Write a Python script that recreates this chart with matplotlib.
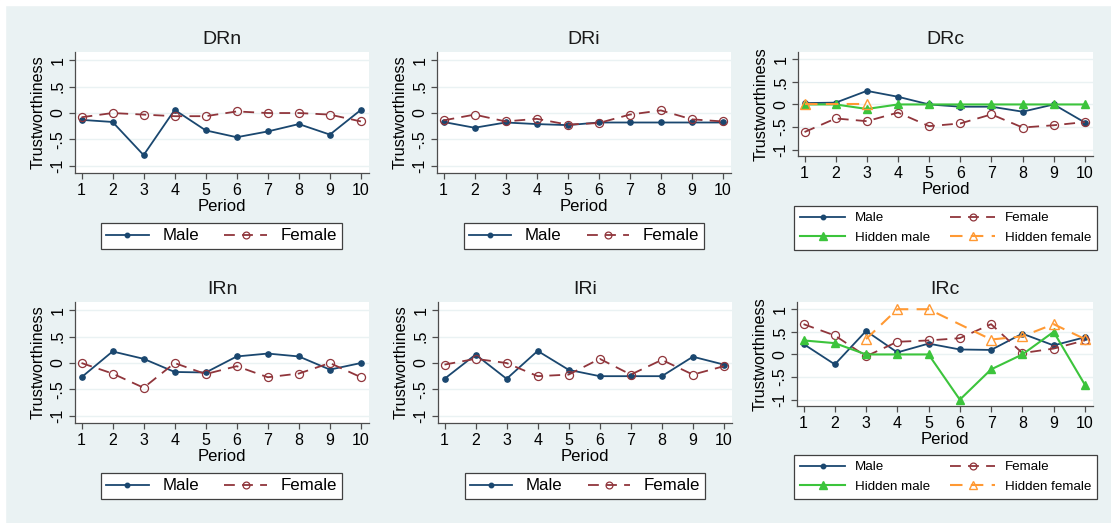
import numpy as np
import matplotlib.pyplot as plt

plt.rcParams['font.family'] = ['Liberation Sans', 'DejaVu Sans']

# Mean trustworthiness per period, by treatment
period = np.arange(1, 11)

drn_male = [-0.13, -0.17, -0.80, 0.06, -0.33, -0.46, -0.35, -0.21, -0.41, 0.06]
drn_female = [-0.08, 0.0, -0.03, -0.06, -0.06, 0.03, 0.0, 0.0, -0.03, -0.16]

dri_male = [-0.17, -0.28, -0.18, -0.21, -0.23, -0.18, -0.18, -0.18, -0.18, -0.18]
dri_female = [-0.14, -0.03, -0.16, -0.11, -0.22, -0.19, -0.03, 0.05, -0.12, -0.16]

drc_male = [0.03, 0.04, 0.30, 0.17, 0.0, -0.05, -0.05, -0.16, 0.0, -0.40]
drc_female = [-0.61, -0.31, -0.37, -0.18, -0.48, -0.42, -0.22, -0.51, -0.46, -0.39]
drc_hmale = [0.0, 0.0, -0.10, 0.0, 0.0, 0.0, 0.0, 0.0, 0.0, 0.0]
drc_hfemale = [0.0, np.nan, 0.0, np.nan, np.nan, np.nan, np.nan, np.nan, np.nan, np.nan]

irn_male = [-0.27, 0.22, 0.08, -0.17, -0.18, 0.125, 0.18, 0.125, -0.125, 0.0]
irn_female = [0.0, -0.20, -0.47, 0.0, -0.21, -0.06, -0.27, -0.20, 0.0, -0.27]

iri_male = [-0.30, 0.16, -0.30, 0.23, -0.13, -0.25, -0.25, -0.25, 0.12, -0.03]
iri_female = [-0.03, 0.08, 0.0, -0.25, -0.22, 0.08, -0.22, 0.06, -0.22, -0.06]

irc_male = [0.23, -0.22, 0.52, 0.045, 0.24, 0.11, 0.10, 0.46, 0.20, 0.38]
irc_female = [0.67, 0.42, -0.04, 0.28, 0.31, 0.36, 0.67, 0.03, 0.13, 0.31]
irc_hmale = [0.31, 0.25, 0.0, 0.0, 0.0, -1.0, -0.33, 0.0, 0.50, -0.67]
irc_hfemale = [np.nan, np.nan, 0.34, 1.0, 1.0, np.nan, 0.33, 0.40, 0.67, 0.34]

yticks = [-1, -0.5, 0, 0.5, 1]
ytick_labels = ['-1', '-.5', '0', '.5', '1']

NAVY = '#1a476f'
MAROON = '#90353b'
GREEN = '#3cc43c'
ORANGE = '#ff9933'
BG = '#eaf2f3'

W, H = 1111, 523
fig = plt.figure(figsize=(W / 100, H / 100), dpi=100, facecolor=BG)
# thin white margin on top and left edge
fig.patches.append(plt.Rectangle((0, 1 - 5 / H), 1, 5 / H, transform=fig.transFigure,
                                 color='white', zorder=-1))
fig.patches.append(plt.Rectangle((0, 0), 5 / W, 1, transform=fig.transFigure,
                                 color='white', zorder=-1))


def box(l, r, t, b):
    return [l / W, 1 - b / H, (r - l) / W, (b - t) / H]


def series(ax, y, kind):
    y = np.asarray(y, dtype=float)
    ok = ~np.isnan(y)
    x = period[ok]
    y = y[ok]
    if kind == 'male':
        return ax.plot(x, y, color=NAVY, lw=1.3, marker='o', ms=3.8, label='Male')[0]
    if kind == 'female':
        return ax.plot(x, y, color=MAROON, lw=1.3, ls=(0, (6, 4)), marker='o', ms=5.8,
                       mfc='none', mec=MAROON, mew=0.9, label='Female')[0]
    if kind == 'hmale':
        return ax.plot(x, y, color=GREEN, lw=1.5, marker='^', ms=6, label='Hidden male')[0]
    return ax.plot(x, y, color=ORANGE, lw=1.5, ls=(0, (6, 4)), marker='^', ms=6.5,
                   mfc='none', mec=ORANGE, mew=1.0, label='Hidden female')[0]


def setup(ax, title):
    ax.set_facecolor('white')
    ax.set_xlim(0.79, 10.26)
    ax.set_ylim(-1.14, 1.16)
    ax.set_yticks(yticks)
    ax.set_yticklabels(ytick_labels, rotation=90, va='center')
    ax.set_xticks(period)
    for s in ['top', 'right']:
        ax.spines[s].set_visible(False)
    for s in ['left', 'bottom']:
        ax.spines[s].set_color('#4d4d4d')
        ax.spines[s].set_linewidth(0.9)
    ax.tick_params(axis='both', direction='out', length=4.5, width=0.9,
                   color='#4d4d4d', labelsize=11.5, pad=2.5)
    ax.grid(axis='y', color=BG, lw=1.0)
    ax.set_axisbelow(True)
    ax.set_ylabel('Trustworthiness', fontsize=11.6, labelpad=3)
    ax.set_xlabel('Period', fontsize=12, labelpad=1)
    ax.set_title(title, fontsize=14, pad=6, color='#1a1a1a')


def add_legend(ax, handles, cx, cy, four):
    if four:
        opts = dict(fontsize=9.6, handlelength=3.4, handletextpad=0.7,
                    columnspacing=1.5, borderpad=0.45, labelspacing=0.55)
    else:
        opts = dict(fontsize=12.2, handlelength=2.5, handletextpad=0.8,
                    columnspacing=1.5, borderpad=0.3)
    leg = ax.legend(handles=handles, loc='center', bbox_to_anchor=(cx / W, 1 - cy / H),
                    bbox_transform=fig.transFigure, ncol=2, frameon=True,
                    fancybox=False, framealpha=1, edgecolor='#404040',
                    markerscale=0.85, borderaxespad=0, **opts)
    leg.get_frame().set_linewidth(0.9)


panels = [
    ('DRn', box(75, 369, 52, 173), [drn_male, drn_female], (221.5, 236)),
    ('DRi', box(437, 731, 52, 173), [dri_male, dri_female], (584, 236)),
    ('DRc', box(798, 1093, 52, 156), [drc_male, drc_female, drc_hmale, drc_hfemale], (945.5, 228)),
    ('IRn', box(75, 369, 302, 423), [irn_male, irn_female], (221.5, 486)),
    ('IRi', box(438, 732, 302, 423), [iri_male, iri_female], (585, 486)),
    ('IRc', box(797, 1093, 302, 406), [irc_male, irc_female, irc_hmale, irc_hfemale], (945.5, 477)),
]

kinds = ['male', 'female', 'hmale', 'hfemale']
for title, pos, data, (cx, cy) in panels:
    ax = fig.add_axes(pos)
    four = len(data) == 4
    setup(ax, title)
    handles = [series(ax, y, k) for y, k in zip(data, kinds)]
    if four:
        handles = [handles[0], handles[2], handles[1], handles[3]]
    add_legend(ax, handles, cx, cy, four)

fig.savefig('out.png', dpi=100, facecolor=BG)
